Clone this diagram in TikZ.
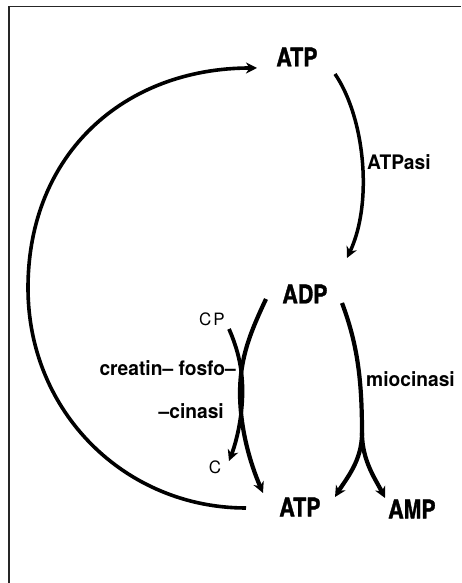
\documentclass[tikz,border=0pt]{standalone}
\usepackage{fontspec}
\setmainfont{TeX Gyre Heros}
\newfontfamily\cndfont[FakeBold=1.3]{texgyreheroscn-bold.otf}
\newfontfamily\labfont[FakeStretch=0.96]{texgyreheros-bold.otf}
\newfontfamily\thinfont{texgyreheros-regular.otf}
\usetikzlibrary{arrows.meta}
\begin{document}
\begin{tikzpicture}[x=1pt,y=1pt,
  mol/.style={inner sep=0pt,font=\cndfont\fontsize{26}{26}\selectfont},
  enz/.style={inner sep=0pt,font=\labfont\fontsize{20}{20}\selectfont},
  sub/.style={inner sep=0pt,font=\thinfont\fontsize{17}{17}\selectfont},
  flow/.style={line width=4.2pt,-{Stealth[length=11pt,width=11pt,inset=3.5pt]}},
  plain/.style={line width=4.2pt},
  frameline/.style={line width=1.6pt,draw=black!85}]
\useasboundingbox (0,0) rectangle (461,583);
\draw[frameline] (9,0) -- (9,576.5) -- (461,576.5);
% molecules
\node[mol] (atp1) at (297,526) {ATP};
\node[mol] (adp) at (305,289) {ADP};
\node[mol] (atp2) at (300,76) {ATP};
\node[mol] (amp) at (412,74) {AMP};
% substrates
\node[sub] (cp) at (212,263.5) {C\hspace{2pt}P};
\node[sub] (c) at (215,116) {C};
% enzyme labels
\node[enz,anchor=base west] (atpasi) at (367,413) {ATPasi};
\node[enz,anchor=base west] (mio) at (366,196) {miocinasi};
\node[enz,anchor=base east] (cre1) at (236,207) {creatin– fosfo–};
\node[enz,anchor=base east] (cre2) at (224,164) {–cinasi};
% connector end points
\coordinate (bigS) at (246,75);
\coordinate (bigL) at (28,295);
\coordinate (bigE) at (257,515);
\coordinate (asS) at (335,509);
\coordinate (asE) at (347,325);
\coordinate (adpL) at (266,284);
\coordinate (adpM) at (240,190);
\coordinate (atpL) at (263,90);
\coordinate (cpS) at (229,254);
\coordinate (cpM) at (242.5,192);
\coordinate (cE) at (229,122);
\coordinate (adpR) at (342,280);
\coordinate (sp) at (362,150);
\coordinate (atpR) at (335,86);
\coordinate (ampL) at (385,85);
% big regeneration arc: ATP (bottom) -> ATP (top)
\draw[flow,line width=3.6pt] (bigS) .. controls (126,75) and (28,170) .. (bigL)
   .. controls (28,430) and (125,515) .. (bigE);
% ATPasi: ATP -> ADP
\draw[flow,line width=3.5pt] (asS) .. controls (365,465) and (373,380) .. (asE);
% creatin-fosfo-cinasi
\draw[flow] (adpL) .. controls (250,250) and (240,225) .. (adpM)
   .. controls (240,155) and (250,120) .. (atpL);
\draw[flow,line width=3.8pt] (cpS) .. controls (236,238) and (242.5,218) .. (cpM)
   .. controls (242.5,165) and (236,140) .. (cE);
% miocinasi
\draw[plain] (adpR) .. controls (357,240) and (362,205) .. (sp);
\draw[flow] (sp) .. controls (362,122) and (346,104) .. (atpR);
\draw[flow] (sp) .. controls (362,122) and (376,103) .. (ampL);
\end{tikzpicture}
\end{document}
